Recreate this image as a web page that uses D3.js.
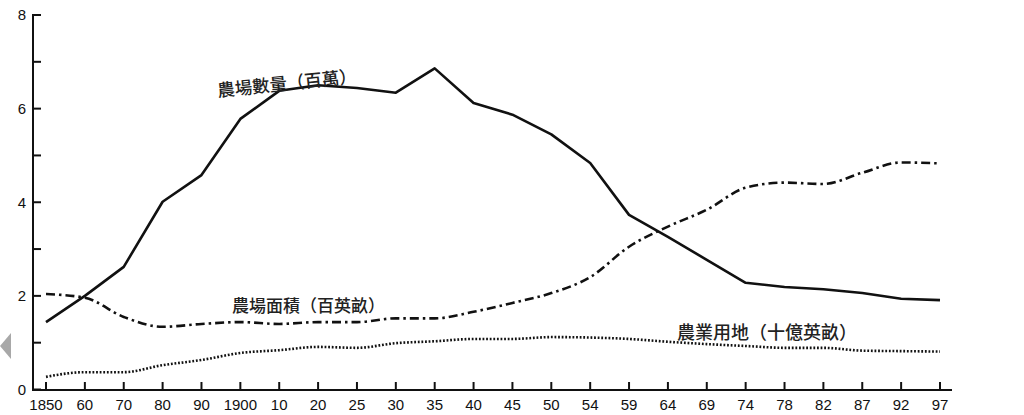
<!DOCTYPE html>
<html><head><meta charset="utf-8">
<script src="https://cdn.jsdelivr.net/npm/d3@7"></script>
<style>
html,body{margin:0;padding:0;background:#fff;}
svg{display:block;}
</style></head>
<body>
<svg id="chart" width="1024" height="415"></svg>
<script>
const categories = ["1850","60","70","80","90","1900","10","20","25","30","35","40","45","50","54","59","64","69","74","78","82","87","92","97"];
// 農場數量（百萬）
const farmCount = [1.44,2.0,2.62,4.01,4.58,5.78,6.38,6.5,6.44,6.34,6.86,6.12,5.87,5.45,4.84,3.73,3.26,2.77,2.28,2.19,2.14,2.06,1.94,1.91];
// 農場面積（百英畝）
const farmSize = [2.04,1.96,1.55,1.34,1.40,1.44,1.40,1.44,1.44,1.52,1.52,1.66,1.85,2.06,2.40,3.05,3.48,3.84,4.31,4.42,4.39,4.63,4.85,4.83];
// 農業用地（十億英畝）
const farmLand = [0.27,0.37,0.37,0.52,0.63,0.78,0.84,0.91,0.89,0.99,1.03,1.08,1.08,1.12,1.11,1.08,1.02,0.97,0.93,0.89,0.89,0.83,0.82,0.81];
const yTicks = [0,1,2,3,4,5,6,7,8];
const yLabels = ["0","","2","","4","","6","","8"];

const svg = d3.select("#chart");
const x0 = 33, x1 = 952, yBase = 390;
const x = d3.scalePoint().domain(categories).range([46, 940]);
const y = d3.scaleLinear().domain([0, 8]).range([389.5, 15]);

// artifact triangle at left edge
svg.append("polygon").attr("points", "0,346 11,333 11,359").attr("fill", "#a8a8a8");

// Y axis
const gy = svg.append("g");
gy.append("line").attr("x1", x0).attr("x2", x0).attr("y1", 14).attr("y2", yBase + 1)
  .attr("stroke", "#111").attr("stroke-width", 2);
gy.selectAll("line.t").data(yTicks).enter().append("line").attr("class","t")
  .attr("x1", x0).attr("x2", x0 + 8).attr("y1", d => y(d)).attr("y2", d => y(d))
  .attr("stroke", "#111").attr("stroke-width", 2);
gy.selectAll("text").data(yTicks).enter().append("text")
  .attr("x", x0 - 7).attr("y", d => y(d)).attr("dy", "0.36em")
  .attr("text-anchor", "end").attr("font-family", "Liberation Sans, Arial, sans-serif")
  .attr("font-size", 15).attr("fill", "#111").text((d, i) => yLabels[i]);

// X axis
const gx = svg.append("g");
gx.append("line").attr("x1", x0).attr("x2", x1).attr("y1", yBase).attr("y2", yBase)
  .attr("stroke", "#111").attr("stroke-width", 2);
gx.selectAll("line.t").data(categories).enter().append("line").attr("class","t")
  .attr("x1", d => x(d)).attr("x2", d => x(d)).attr("y1", yBase).attr("y2", yBase - 8)
  .attr("stroke", "#111").attr("stroke-width", 2);
gx.selectAll("text").data(categories).enter().append("text")
  .attr("x", d => x(d)).attr("y", 410)
  .attr("text-anchor", "middle").attr("font-family", "Liberation Sans, Arial, sans-serif")
  .attr("font-size", 15).attr("fill", "#111").text(d => d);

function mkLine(curve) {
  return d3.line().x((d, i) => x(categories[i])).y(d => y(d)).curve(curve);
}

svg.append("path").datum(farmLand).attr("d", mkLine(d3.curveMonotoneX))
  .attr("fill", "none").attr("stroke", "#111").attr("stroke-width", 2.6)
  .attr("stroke-dasharray", "1.8,1.8");

svg.append("path").datum(farmSize).attr("d", mkLine(d3.curveMonotoneX))
  .attr("fill", "none").attr("stroke", "#111").attr("stroke-width", 2.6)
  .attr("stroke-dasharray", "9,4,2.5,4");

svg.append("path").datum(farmCount).attr("d", mkLine(d3.curveLinear))
  .attr("fill", "none").attr("stroke", "#111").attr("stroke-width", 2.6)
  .attr("stroke-linejoin", "round");

const cjk = "Noto Sans CJK TC, Noto Sans CJK SC, sans-serif";
svg.append("text").attr("transform", "translate(218,97) rotate(-6)")
  .attr("font-family", cjk).attr("font-size", 17.5).attr("font-weight", 500)
  .attr("fill", "#222").text("農場數量（百萬）");
svg.append("text").attr("x", 232).attr("y", 312)
  .attr("font-family", cjk).attr("font-size", 17).attr("font-weight", 500)
  .attr("fill", "#222").text("農場面積（百英畝）");
svg.append("text").attr("x", 677).attr("y", 339)
  .attr("font-family", cjk).attr("font-size", 18).attr("font-weight", 500)
  .attr("fill", "#222").text("農業用地（十億英畝）");
</script>
</body></html>
